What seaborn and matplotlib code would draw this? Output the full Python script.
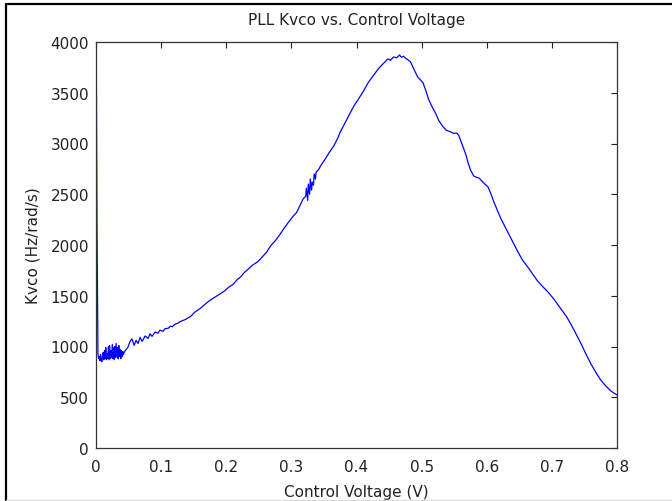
import matplotlib
matplotlib.use("Agg")
import matplotlib.pyplot as plt
from matplotlib.lines import Line2D
import seaborn as sns
import pandas as pd

# Measured Kvco of the PLL versus the VCO control voltage
control_voltage = [
    0.0000, 0.0015, 0.0030,
    0.004, 0.005, 0.006, 0.007, 0.008, 0.009, 0.010, 0.011, 0.012, 0.013,
    0.014, 0.015, 0.016, 0.017, 0.018, 0.019, 0.020, 0.021, 0.022, 0.023,
    0.024, 0.025, 0.026, 0.027, 0.028, 0.029, 0.030, 0.031, 0.032, 0.033,
    0.034, 0.035, 0.036, 0.037, 0.038, 0.039, 0.040, 0.041, 0.042, 0.043,
    0.045, 0.0492, 0.0523, 0.0554, 0.0585, 0.0615, 0.0646, 0.0677, 0.0708,
    0.0754, 0.080, 0.083, 0.086, 0.091, 0.095, 0.098, 0.103, 0.106, 0.111,
    0.114, 0.117, 0.122, 0.126, 0.129, 0.137, 0.142, 0.145, 0.152, 0.160,
    0.168, 0.175, 0.183, 0.191, 0.198, 0.203, 0.211, 0.217, 0.222, 0.228,
    0.234, 0.240, 0.248, 0.255, 0.262, 0.268, 0.275, 0.282, 0.288, 0.295,
    0.303, 0.308, 0.314, 0.318, 0.322, 0.323, 0.325, 0.326, 0.328, 0.329,
    0.331, 0.332, 0.334, 0.335, 0.337, 0.338, 0.3415, 0.345, 0.348, 0.352,
    0.358, 0.365, 0.371, 0.375, 0.383, 0.391, 0.397, 0.403, 0.411, 0.418,
    0.426, 0.434, 0.440, 0.448, 0.452, 0.457, 0.462, 0.466, 0.469, 0.472,
    0.475, 0.480, 0.483, 0.488, 0.494, 0.502, 0.506, 0.511, 0.517, 0.522,
    0.526, 0.532, 0.538, 0.545, 0.549, 0.554, 0.557, 0.563, 0.568, 0.571,
    0.575, 0.580, 0.585, 0.588, 0.594, 0.602, 0.606, 0.611, 0.617, 0.622,
    0.628, 0.632, 0.640, 0.648, 0.655, 0.663, 0.671, 0.678, 0.686, 0.694,
    0.703, 0.714, 0.722, 0.729, 0.737, 0.745, 0.752, 0.760, 0.768, 0.775,
    0.783, 0.791, 0.800,
]
kvco = [
    4600, 2240, 930,
    880, 900, 860, 920, 870, 850, 900, 940, 870, 960,
    880, 990, 870, 930, 880, 1000, 870, 1010, 880, 960,
    890, 1020, 880, 990, 870, 1000, 890, 1030, 900, 990,
    880, 1010, 900, 970, 880, 960, 900, 950, 920, 940,
    960, 995, 1050, 1074, 1010, 1060, 1030, 1090, 1050,
    1103, 1080, 1125, 1100, 1143, 1130, 1160, 1150, 1175, 1180,
    1200, 1195, 1222, 1230, 1245, 1265, 1285, 1295, 1340, 1375,
    1419, 1455, 1488, 1520, 1550, 1580, 1616, 1660, 1685, 1730,
    1764, 1800, 1833, 1880, 1930, 1990, 2040, 2100, 2158, 2220,
    2286, 2320, 2400, 2453, 2480, 2560, 2440, 2600, 2500, 2650,
    2540, 2620, 2590, 2700, 2650, 2720, 2740, 2780, 2810, 2847,
    2910, 2975, 3050, 3113, 3210, 3310, 3380, 3438, 3520, 3600,
    3670, 3740, 3780, 3833, 3820, 3852, 3845, 3872, 3850, 3860,
    3842, 3820, 3803, 3734, 3655, 3600, 3530, 3430, 3350, 3291,
    3230, 3172, 3130, 3113, 3100, 3103, 3080, 2975, 2890, 2818,
    2740, 2680, 2665, 2660, 2620, 2571, 2510, 2424, 2330, 2256,
    2180, 2128, 2030, 1931, 1850, 1783, 1710, 1645, 1590, 1537,
    1468, 1369, 1300, 1222, 1125, 1025, 930, 828, 740, 670,
    610, 560, 522,
]

x_ticks = [0, 0.1, 0.2, 0.3, 0.4, 0.5, 0.6, 0.7, 0.8]
x_tick_labels = ["0", "0.1", "0.2", "0.3", "0.4", "0.5", "0.6", "0.7", "0.8"]
y_ticks = [0, 500, 1000, 1500, 2000, 2500, 3000, 3500, 4000]

df = pd.DataFrame({"Control Voltage (V)": control_voltage, "Kvco (Hz/rad/s)": kvco})

sns.set_style("white")
plt.rcParams["font.family"] = ["DejaVu Sans"]

fig = plt.figure(figsize=(6.72, 5.02), dpi=100)
ax = fig.add_axes([96 / 672, 1 - 449 / 502, (617 - 96) / 672, (449 - 43) / 502])

sns.lineplot(data=df, x="Control Voltage (V)", y="Kvco (Hz/rad/s)", ax=ax,
             sort=False, estimator=None, color="#0000ff", linewidth=0.9)

ax.set_xlim(0, 0.8)
ax.set_ylim(0, 4000)
ax.set_xticks(x_ticks)
ax.set_xticklabels(x_tick_labels)
ax.set_yticks(y_ticks)
ax.tick_params(direction="in", length=4, width=0.8, color="#222222",
               top=True, right=True, labelsize=11, labelcolor="#222222")
ax.tick_params(axis="x", pad=8)
ax.tick_params(axis="y", pad=5)
for s in ax.spines.values():
    s.set_color("#333333")
    s.set_linewidth(0.9)

ax.set_title("PLL Kvco vs. Control Voltage", fontsize=11, color="#222222", pad=13)
ax.set_xlabel("Control Voltage (V)", fontsize=11, color="#222222", labelpad=7)
ax.set_ylabel("Kvco (Hz/rad/s)", fontsize=11, color="#222222", labelpad=7)

# Window frame around the plot
fig.add_artist(Line2D([6 / 672, 1.0], [1 - 5 / 502, 1 - 5 / 502], color="black", linewidth=1.6))
fig.add_artist(Line2D([6 / 672, 6 / 672], [0, 1 - 5 / 502], color="black", linewidth=1.6))
fig.add_artist(Line2D([6 / 672, 1.0], [0.6 / 502, 0.6 / 502], color="#dddddd", linewidth=1.0))

fig.savefig("out.png", dpi=100)
